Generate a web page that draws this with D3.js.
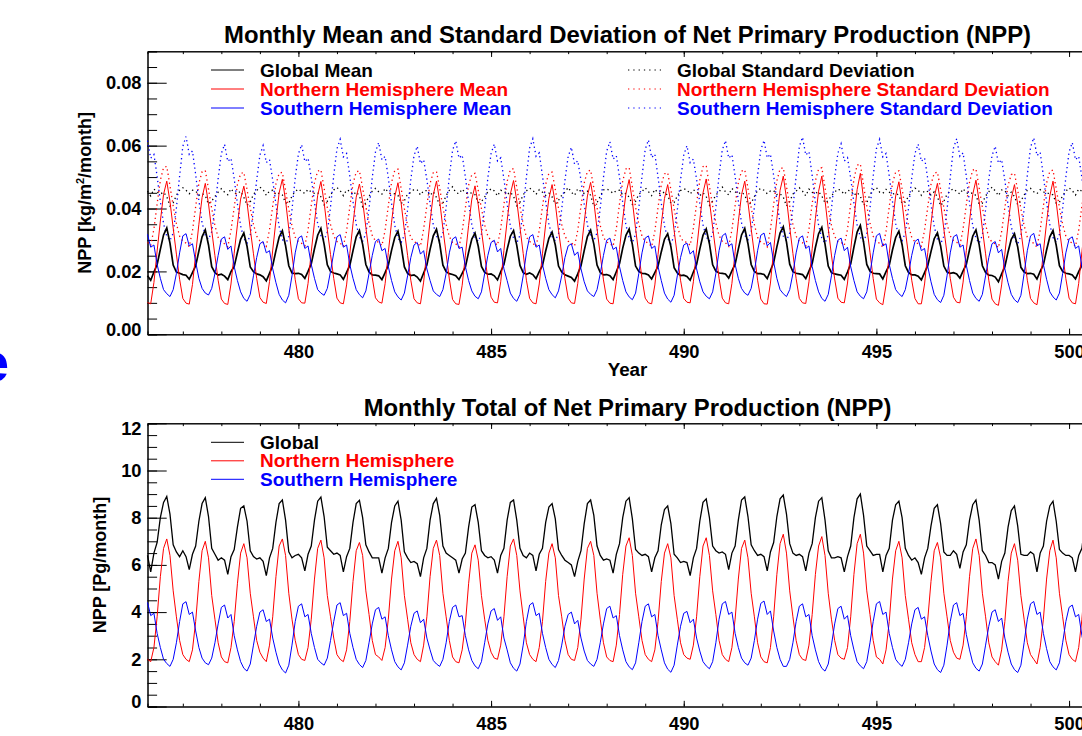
<!DOCTYPE html>
<html>
<head>
<meta charset="utf-8">
<script src="https://cdn.jsdelivr.net/npm/d3@7"></script>
<style>
  html, body { margin: 0; padding: 0; background: #fff; overflow: hidden; }
  svg { display: block; font-family: "Liberation Sans", Arial, Helvetica, sans-serif; font-weight: bold; }
</style>
</head>
<body>
<svg id="chart" width="1082" height="736"></svg>
<script>
// monthly values, one row per year (Jan..Dec), years 476..500
var firstYear = 476;

var globalMean = [
  [0.0186,0.0172,0.0198,0.0222,0.0270,0.0316,0.0338,0.0290,0.0220,0.0198,0.0194,0.0190],
  [0.0188,0.0175,0.0196,0.0218,0.0265,0.0310,0.0332,0.0284,0.0215,0.0196,0.0188,0.0191],
  [0.0185,0.0174,0.0199,0.0216,0.0260,0.0302,0.0322,0.0280,0.0214,0.0199,0.0192,0.0189],
  [0.0183,0.0170,0.0194,0.0219,0.0266,0.0309,0.0329,0.0282,0.0218,0.0195,0.0193,0.0194],
  [0.0190,0.0178,0.0200,0.0224,0.0272,0.0315,0.0337,0.0287,0.0221,0.0200,0.0195,0.0192],
  [0.0189,0.0175,0.0197,0.0219,0.0266,0.0310,0.0330,0.0286,0.0222,0.0198,0.0189,0.0188],
  [0.0186,0.0174,0.0196,0.0220,0.0267,0.0308,0.0328,0.0281,0.0214,0.0194,0.0187,0.0189],
  [0.0182,0.0169,0.0195,0.0220,0.0270,0.0313,0.0334,0.0288,0.0220,0.0199,0.0193,0.0190],
  [0.0186,0.0174,0.0194,0.0214,0.0261,0.0303,0.0322,0.0280,0.0216,0.0197,0.0191,0.0192],
  [0.0186,0.0173,0.0199,0.0222,0.0270,0.0312,0.0330,0.0283,0.0219,0.0196,0.0191,0.0195],
  [0.0190,0.0177,0.0199,0.0219,0.0265,0.0305,0.0325,0.0284,0.0217,0.0198,0.0189,0.0185],
  [0.0181,0.0169,0.0192,0.0218,0.0266,0.0311,0.0331,0.0287,0.0220,0.0197,0.0189,0.0190],
  [0.0186,0.0174,0.0199,0.0225,0.0274,0.0315,0.0335,0.0285,0.0217,0.0200,0.0194,0.0193],
  [0.0189,0.0176,0.0196,0.0217,0.0262,0.0302,0.0320,0.0279,0.0212,0.0195,0.0187,0.0188],
  [0.0184,0.0172,0.0198,0.0222,0.0271,0.0315,0.0335,0.0288,0.0221,0.0201,0.0195,0.0194],
  [0.0192,0.0179,0.0202,0.0223,0.0271,0.0316,0.0337,0.0288,0.0222,0.0200,0.0193,0.0193],
  [0.0190,0.0177,0.0203,0.0228,0.0278,0.0322,0.0342,0.0293,0.0223,0.0199,0.0194,0.0192],
  [0.0190,0.0177,0.0201,0.0225,0.0276,0.0320,0.0340,0.0287,0.0217,0.0196,0.0192,0.0190],
  [0.0188,0.0175,0.0198,0.0224,0.0277,0.0325,0.0346,0.0293,0.0222,0.0201,0.0194,0.0193],
  [0.0192,0.0176,0.0199,0.0220,0.0268,0.0308,0.0328,0.0285,0.0218,0.0197,0.0189,0.0189],
  [0.0185,0.0173,0.0196,0.0219,0.0263,0.0304,0.0323,0.0281,0.0217,0.0198,0.0194,0.0196],
  [0.0192,0.0179,0.0202,0.0222,0.0269,0.0312,0.0332,0.0285,0.0218,0.0197,0.0188,0.0187],
  [0.0182,0.0167,0.0192,0.0215,0.0262,0.0302,0.0320,0.0278,0.0213,0.0198,0.0193,0.0194],
  [0.0191,0.0176,0.0200,0.0221,0.0268,0.0310,0.0330,0.0283,0.0218,0.0200,0.0194,0.0192],
  [0.0189,0.0176,0.0199,0.0220,0.0267,0.0309,0.0330,0.0285,0.0219,0.0199,0.0191,0.0192]
];

var northMean = [
  [0.0101,0.0097,0.0165,0.0265,0.0360,0.0445,0.0487,0.0422,0.0338,0.0255,0.0175,0.0114],
  [0.0099,0.0096,0.0158,0.0255,0.0350,0.0435,0.0480,0.0415,0.0330,0.0250,0.0172,0.0112],
  [0.0098,0.0095,0.0160,0.0258,0.0348,0.0430,0.0471,0.0418,0.0335,0.0256,0.0178,0.0117],
  [0.0102,0.0098,0.0168,0.0268,0.0362,0.0450,0.0493,0.0425,0.0336,0.0252,0.0174,0.0113],
  [0.0100,0.0099,0.0162,0.0262,0.0356,0.0442,0.0486,0.0420,0.0332,0.0254,0.0178,0.0115],
  [0.0100,0.0097,0.0157,0.0256,0.0352,0.0436,0.0478,0.0424,0.0340,0.0260,0.0180,0.0116],
  [0.0103,0.0099,0.0161,0.0260,0.0356,0.0438,0.0482,0.0416,0.0330,0.0251,0.0172,0.0113],
  [0.0100,0.0097,0.0166,0.0266,0.0360,0.0444,0.0487,0.0423,0.0336,0.0256,0.0176,0.0111],
  [0.0097,0.0095,0.0156,0.0252,0.0346,0.0430,0.0472,0.0412,0.0330,0.0252,0.0176,0.0118],
  [0.0102,0.0100,0.0167,0.0267,0.0361,0.0446,0.0489,0.0424,0.0340,0.0257,0.0172,0.0114],
  [0.0100,0.0097,0.0160,0.0256,0.0350,0.0432,0.0476,0.0416,0.0331,0.0255,0.0177,0.0115],
  [0.0100,0.0098,0.0162,0.0262,0.0356,0.0440,0.0483,0.0422,0.0335,0.0252,0.0173,0.0112],
  [0.0099,0.0097,0.0167,0.0270,0.0366,0.0448,0.0492,0.0424,0.0336,0.0256,0.0177,0.0115],
  [0.0100,0.0097,0.0157,0.0254,0.0350,0.0432,0.0476,0.0418,0.0330,0.0251,0.0172,0.0114],
  [0.0102,0.0100,0.0167,0.0268,0.0364,0.0450,0.0494,0.0425,0.0340,0.0261,0.0178,0.0115],
  [0.0100,0.0097,0.0162,0.0262,0.0358,0.0444,0.0487,0.0420,0.0335,0.0255,0.0172,0.0112],
  [0.0097,0.0096,0.0163,0.0268,0.0368,0.0458,0.0503,0.0432,0.0341,0.0257,0.0177,0.0114],
  [0.0100,0.0098,0.0167,0.0272,0.0368,0.0455,0.0503,0.0426,0.0336,0.0252,0.0176,0.0115],
  [0.0102,0.0100,0.0163,0.0268,0.0368,0.0460,0.0512,0.0432,0.0341,0.0261,0.0177,0.0112],
  [0.0100,0.0094,0.0157,0.0256,0.0355,0.0440,0.0485,0.0418,0.0330,0.0252,0.0172,0.0114],
  [0.0097,0.0097,0.0160,0.0260,0.0352,0.0436,0.0480,0.0418,0.0335,0.0256,0.0178,0.0118],
  [0.0102,0.0100,0.0166,0.0266,0.0360,0.0445,0.0490,0.0423,0.0336,0.0256,0.0172,0.0112],
  [0.0097,0.0092,0.0157,0.0255,0.0350,0.0432,0.0476,0.0414,0.0330,0.0251,0.0172,0.0114],
  [0.0100,0.0094,0.0162,0.0262,0.0356,0.0440,0.0487,0.0420,0.0335,0.0256,0.0177,0.0115],
  [0.0100,0.0097,0.0162,0.0262,0.0356,0.0440,0.0483,0.0420,0.0335,0.0256,0.0172,0.0114]
];

var southMean = [
  [0.0318,0.0277,0.0284,0.0222,0.0178,0.0142,0.0129,0.0120,0.0142,0.0193,0.0259,0.0313],
  [0.0320,0.0281,0.0288,0.0230,0.0178,0.0146,0.0131,0.0125,0.0146,0.0193,0.0251,0.0303],
  [0.0310,0.0270,0.0281,0.0215,0.0171,0.0135,0.0114,0.0105,0.0127,0.0186,0.0244,0.0288],
  [0.0295,0.0259,0.0266,0.0208,0.0164,0.0127,0.0109,0.0100,0.0124,0.0186,0.0259,0.0306],
  [0.0313,0.0273,0.0281,0.0222,0.0178,0.0142,0.0131,0.0124,0.0146,0.0200,0.0259,0.0310],
  [0.0317,0.0277,0.0284,0.0222,0.0178,0.0142,0.0126,0.0116,0.0138,0.0193,0.0251,0.0295],
  [0.0303,0.0266,0.0273,0.0215,0.0171,0.0135,0.0119,0.0109,0.0131,0.0186,0.0244,0.0284],
  [0.0292,0.0255,0.0266,0.0208,0.0171,0.0138,0.0127,0.0120,0.0142,0.0193,0.0259,0.0303],
  [0.0310,0.0273,0.0277,0.0215,0.0171,0.0138,0.0121,0.0113,0.0135,0.0193,0.0251,0.0292],
  [0.0299,0.0262,0.0273,0.0208,0.0171,0.0131,0.0114,0.0105,0.0127,0.0186,0.0259,0.0310],
  [0.0317,0.0277,0.0284,0.0222,0.0178,0.0142,0.0126,0.0116,0.0138,0.0186,0.0244,0.0281],
  [0.0288,0.0251,0.0262,0.0208,0.0167,0.0138,0.0127,0.0120,0.0142,0.0193,0.0251,0.0299],
  [0.0306,0.0270,0.0277,0.0215,0.0171,0.0135,0.0119,0.0110,0.0131,0.0193,0.0259,0.0306],
  [0.0313,0.0273,0.0281,0.0215,0.0171,0.0131,0.0112,0.0102,0.0124,0.0186,0.0244,0.0284],
  [0.0290,0.0255,0.0266,0.0208,0.0167,0.0135,0.0121,0.0113,0.0135,0.0193,0.0266,0.0313],
  [0.0321,0.0281,0.0288,0.0222,0.0178,0.0146,0.0131,0.0124,0.0146,0.0200,0.0266,0.0315],
  [0.0322,0.0281,0.0292,0.0230,0.0178,0.0142,0.0129,0.0120,0.0142,0.0193,0.0259,0.0306],
  [0.0313,0.0273,0.0281,0.0215,0.0171,0.0135,0.0114,0.0105,0.0127,0.0186,0.0251,0.0299],
  [0.0306,0.0266,0.0277,0.0215,0.0171,0.0135,0.0121,0.0113,0.0135,0.0193,0.0259,0.0313],
  [0.0321,0.0281,0.0288,0.0222,0.0178,0.0142,0.0129,0.0120,0.0142,0.0193,0.0251,0.0295],
  [0.0303,0.0266,0.0273,0.0215,0.0167,0.0127,0.0110,0.0101,0.0124,0.0186,0.0259,0.0310],
  [0.0317,0.0277,0.0284,0.0219,0.0171,0.0131,0.0114,0.0105,0.0127,0.0186,0.0244,0.0288],
  [0.0295,0.0259,0.0270,0.0208,0.0164,0.0127,0.0110,0.0101,0.0124,0.0193,0.0266,0.0313],
  [0.0321,0.0281,0.0288,0.0222,0.0175,0.0135,0.0119,0.0109,0.0131,0.0193,0.0259,0.0303],
  [0.0310,0.0273,0.0281,0.0215,0.0171,0.0135,0.0121,0.0113,0.0135,0.0193,0.0259,0.0306]
];

var globalStd = [
  [0.0455,0.0440,0.0462,0.0452,0.0446,0.0452,0.0438,0.0408,0.0418,0.0442,0.0458,0.0466],
  [0.0458,0.0447,0.0458,0.0456,0.0442,0.0448,0.0441,0.0414,0.0424,0.0438,0.0452,0.0463],
  [0.0452,0.0444,0.0463,0.0450,0.0447,0.0455,0.0436,0.0410,0.0421,0.0445,0.0457,0.0468],
  [0.0460,0.0442,0.0456,0.0458,0.0444,0.0449,0.0443,0.0418,0.0416,0.0440,0.0454,0.0462],
  [0.0454,0.0448,0.0461,0.0453,0.0448,0.0451,0.0437,0.0412,0.0423,0.0443,0.0459,0.0467],
  [0.0457,0.0441,0.0459,0.0455,0.0443,0.0453,0.0440,0.0406,0.0419,0.0439,0.0455,0.0464],
  [0.0453,0.0446,0.0464,0.0451,0.0446,0.0447,0.0442,0.0416,0.0425,0.0446,0.0451,0.0461],
  [0.0459,0.0443,0.0457,0.0457,0.0441,0.0454,0.0435,0.0411,0.0417,0.0441,0.0458,0.0469],
  [0.0451,0.0447,0.0462,0.0449,0.0447,0.0450,0.0444,0.0419,0.0422,0.0437,0.0453,0.0463],
  [0.0456,0.0440,0.0458,0.0456,0.0445,0.0452,0.0439,0.0409,0.0420,0.0444,0.0456,0.0465],
  [0.0458,0.0445,0.0460,0.0452,0.0442,0.0449,0.0437,0.0414,0.0426,0.0442,0.0452,0.0467],
  [0.0452,0.0442,0.0463,0.0454,0.0448,0.0455,0.0442,0.0407,0.0418,0.0439,0.0459,0.0462],
  [0.0457,0.0448,0.0457,0.0458,0.0443,0.0448,0.0436,0.0413,0.0423,0.0445,0.0454,0.0466],
  [0.0454,0.0441,0.0461,0.0450,0.0446,0.0453,0.0441,0.0417,0.0419,0.0440,0.0457,0.0463],
  [0.0459,0.0446,0.0459,0.0455,0.0441,0.0450,0.0438,0.0410,0.0424,0.0443,0.0453,0.0468],
  [0.0453,0.0443,0.0464,0.0453,0.0447,0.0452,0.0443,0.0415,0.0417,0.0438,0.0458,0.0464],
  [0.0458,0.0447,0.0456,0.0457,0.0444,0.0447,0.0436,0.0408,0.0422,0.0446,0.0455,0.0466],
  [0.0455,0.0440,0.0462,0.0451,0.0448,0.0454,0.0440,0.0418,0.0425,0.0441,0.0452,0.0462],
  [0.0457,0.0445,0.0458,0.0456,0.0442,0.0451,0.0439,0.0411,0.0418,0.0444,0.0459,0.0467],
  [0.0452,0.0448,0.0461,0.0452,0.0446,0.0449,0.0442,0.0416,0.0421,0.0439,0.0454,0.0465],
  [0.0459,0.0442,0.0457,0.0454,0.0443,0.0453,0.0437,0.0409,0.0423,0.0445,0.0457,0.0463],
  [0.0454,0.0446,0.0463,0.0450,0.0447,0.0450,0.0441,0.0414,0.0417,0.0440,0.0453,0.0468],
  [0.0456,0.0441,0.0459,0.0457,0.0441,0.0452,0.0438,0.0412,0.0424,0.0443,0.0458,0.0464],
  [0.0453,0.0447,0.0460,0.0453,0.0448,0.0448,0.0443,0.0417,0.0420,0.0441,0.0455,0.0466],
  [0.0457,0.0443,0.0462,0.0455,0.0444,0.0451,0.0439,0.0410,0.0422,0.0442,0.0456,0.0465]
];

var northStd = [
  [0.0292,0.0282,0.0335,0.0415,0.0490,0.0530,0.0534,0.0472,0.0408,0.0352,0.0312,0.0296],
  [0.0290,0.0279,0.0328,0.0406,0.0480,0.0517,0.0521,0.0462,0.0400,0.0346,0.0308,0.0293],
  [0.0288,0.0278,0.0330,0.0404,0.0476,0.0511,0.0515,0.0460,0.0402,0.0350,0.0312,0.0297],
  [0.0291,0.0280,0.0333,0.0408,0.0478,0.0512,0.0515,0.0458,0.0398,0.0345,0.0309,0.0294],
  [0.0289,0.0281,0.0332,0.0410,0.0482,0.0519,0.0523,0.0465,0.0403,0.0349,0.0313,0.0295],
  [0.0290,0.0279,0.0329,0.0405,0.0479,0.0516,0.0520,0.0466,0.0406,0.0353,0.0314,0.0297],
  [0.0293,0.0282,0.0331,0.0409,0.0483,0.0521,0.0525,0.0463,0.0400,0.0345,0.0307,0.0294],
  [0.0290,0.0280,0.0334,0.0410,0.0480,0.0514,0.0518,0.0464,0.0404,0.0350,0.0311,0.0292],
  [0.0288,0.0277,0.0327,0.0402,0.0474,0.0508,0.0512,0.0458,0.0400,0.0348,0.0312,0.0298],
  [0.0293,0.0283,0.0336,0.0413,0.0486,0.0523,0.0527,0.0467,0.0406,0.0350,0.0309,0.0295],
  [0.0290,0.0279,0.0330,0.0405,0.0477,0.0512,0.0516,0.0461,0.0401,0.0349,0.0312,0.0296],
  [0.0291,0.0281,0.0331,0.0408,0.0481,0.0518,0.0522,0.0465,0.0403,0.0346,0.0308,0.0293],
  [0.0289,0.0280,0.0336,0.0415,0.0488,0.0526,0.0530,0.0468,0.0404,0.0351,0.0312,0.0295],
  [0.0290,0.0279,0.0328,0.0404,0.0476,0.0510,0.0514,0.0460,0.0399,0.0346,0.0308,0.0294],
  [0.0293,0.0283,0.0337,0.0416,0.0490,0.0533,0.0537,0.0470,0.0408,0.0354,0.0314,0.0296],
  [0.0291,0.0280,0.0332,0.0409,0.0482,0.0519,0.0523,0.0464,0.0403,0.0349,0.0308,0.0293],
  [0.0288,0.0278,0.0333,0.0413,0.0488,0.0526,0.0530,0.0470,0.0408,0.0351,0.0312,0.0295],
  [0.0291,0.0281,0.0336,0.0415,0.0488,0.0526,0.0530,0.0466,0.0403,0.0347,0.0311,0.0295],
  [0.0293,0.0283,0.0334,0.0416,0.0494,0.0538,0.0542,0.0474,0.0408,0.0354,0.0312,0.0293],
  [0.0290,0.0277,0.0328,0.0406,0.0480,0.0516,0.0520,0.0462,0.0400,0.0346,0.0308,0.0294],
  [0.0288,0.0280,0.0331,0.0406,0.0477,0.0512,0.0516,0.0461,0.0403,0.0351,0.0313,0.0298],
  [0.0293,0.0283,0.0335,0.0412,0.0484,0.0522,0.0526,0.0466,0.0404,0.0349,0.0308,0.0293],
  [0.0288,0.0275,0.0327,0.0402,0.0474,0.0508,0.0512,0.0458,0.0399,0.0346,0.0309,0.0294],
  [0.0290,0.0277,0.0331,0.0408,0.0481,0.0518,0.0522,0.0463,0.0403,0.0350,0.0312,0.0296],
  [0.0290,0.0280,0.0331,0.0408,0.0480,0.0516,0.0520,0.0463,0.0403,0.0349,0.0309,0.0295]
];

var southStd = [
  [0.0616,0.0560,0.0572,0.0502,0.0422,0.0352,0.0312,0.0298,0.0322,0.0402,0.0503,0.0598],
  [0.0629,0.0572,0.0583,0.0508,0.0425,0.0355,0.0315,0.0302,0.0326,0.0400,0.0495,0.0575],
  [0.0604,0.0550,0.0560,0.0495,0.0415,0.0345,0.0305,0.0290,0.0315,0.0395,0.0490,0.0570],
  [0.0600,0.0546,0.0556,0.0490,0.0412,0.0342,0.0302,0.0286,0.0312,0.0396,0.0497,0.0574],
  [0.0603,0.0549,0.0560,0.0498,0.0420,0.0352,0.0314,0.0300,0.0325,0.0405,0.0505,0.0590],
  [0.0620,0.0564,0.0575,0.0503,0.0422,0.0350,0.0310,0.0296,0.0320,0.0400,0.0498,0.0580],
  [0.0610,0.0555,0.0566,0.0497,0.0417,0.0346,0.0306,0.0292,0.0316,0.0396,0.0492,0.0568],
  [0.0598,0.0543,0.0555,0.0492,0.0416,0.0349,0.0312,0.0298,0.0323,0.0402,0.0502,0.0585],
  [0.0615,0.0560,0.0570,0.0500,0.0420,0.0349,0.0309,0.0295,0.0319,0.0400,0.0497,0.0575],
  [0.0605,0.0551,0.0561,0.0494,0.0415,0.0345,0.0305,0.0290,0.0315,0.0397,0.0500,0.0592],
  [0.0622,0.0566,0.0577,0.0504,0.0423,0.0351,0.0311,0.0297,0.0320,0.0398,0.0490,0.0565],
  [0.0595,0.0541,0.0552,0.0490,0.0414,0.0348,0.0312,0.0298,0.0323,0.0401,0.0499,0.0582],
  [0.0612,0.0557,0.0568,0.0499,0.0419,0.0347,0.0307,0.0292,0.0318,0.0400,0.0502,0.0588],
  [0.0618,0.0562,0.0573,0.0500,0.0418,0.0345,0.0304,0.0288,0.0313,0.0395,0.0490,0.0570],
  [0.0600,0.0546,0.0557,0.0493,0.0416,0.0348,0.0310,0.0296,0.0321,0.0402,0.0506,0.0586],
  [0.0616,0.0560,0.0571,0.0503,0.0424,0.0354,0.0315,0.0301,0.0326,0.0405,0.0505,0.0587],
  [0.0617,0.0561,0.0573,0.0505,0.0424,0.0352,0.0312,0.0298,0.0322,0.0402,0.0502,0.0597],
  [0.0627,0.0570,0.0581,0.0504,0.0420,0.0347,0.0305,0.0290,0.0315,0.0398,0.0498,0.0576],
  [0.0606,0.0551,0.0562,0.0496,0.0418,0.0348,0.0309,0.0295,0.0320,0.0401,0.0503,0.0590],
  [0.0620,0.0564,0.0575,0.0504,0.0423,0.0352,0.0312,0.0298,0.0322,0.0400,0.0496,0.0575],
  [0.0605,0.0550,0.0561,0.0494,0.0414,0.0343,0.0302,0.0287,0.0312,0.0396,0.0500,0.0592],
  [0.0622,0.0566,0.0577,0.0502,0.0419,0.0346,0.0305,0.0290,0.0315,0.0396,0.0492,0.0568],
  [0.0598,0.0544,0.0555,0.0490,0.0412,0.0342,0.0302,0.0287,0.0313,0.0398,0.0505,0.0595],
  [0.0625,0.0568,0.0579,0.0504,0.0421,0.0349,0.0308,0.0293,0.0318,0.0400,0.0500,0.0580],
  [0.0610,0.0555,0.0566,0.0498,0.0418,0.0348,0.0309,0.0295,0.0320,0.0400,0.0500,0.0585]
];

var globalTotal = [
  [6.40,5.70,6.50,6.95,8.00,8.65,8.90,8.15,6.85,6.55,6.35,6.60],
  [6.35,5.80,6.45,6.80,7.85,8.60,8.85,8.05,6.70,6.45,6.20,6.30],
  [6.20,5.60,6.35,6.65,7.60,8.40,8.50,7.85,6.60,6.35,6.25,6.30],
  [6.15,5.55,6.30,6.70,7.80,8.60,8.75,7.90,6.55,6.30,6.40,6.45],
  [6.30,5.75,6.45,6.80,7.90,8.70,8.87,8.05,6.75,6.60,6.45,6.50],
  [6.40,5.70,6.35,6.70,7.80,8.60,8.74,8.00,6.85,6.55,6.30,6.30],
  [6.30,5.65,6.30,6.70,7.80,8.50,8.70,7.90,6.55,6.30,6.10,6.15],
  [6.05,5.50,6.30,6.70,7.90,8.60,8.82,8.10,6.80,6.50,6.40,6.30],
  [6.20,5.65,6.25,6.50,7.60,8.45,8.55,7.80,6.60,6.40,6.30,6.35],
  [6.20,5.65,6.40,6.70,7.90,8.65,8.75,7.90,6.70,6.40,6.30,6.50],
  [6.40,5.75,6.45,6.70,7.80,8.45,8.60,7.95,6.65,6.40,6.20,6.10],
  [6.00,5.50,6.15,6.60,7.75,8.60,8.75,8.10,6.80,6.40,6.20,6.25],
  [6.20,5.65,6.45,6.90,8.00,8.70,8.85,7.95,6.65,6.50,6.40,6.45],
  [6.35,5.70,6.30,6.60,7.70,8.35,8.50,7.75,6.45,6.30,6.10,6.15],
  [6.10,5.55,6.30,6.70,7.85,8.65,8.80,8.00,6.80,6.60,6.50,6.55],
  [6.45,5.80,6.50,6.80,7.90,8.75,8.88,8.05,6.85,6.60,6.40,6.45],
  [6.35,5.75,6.55,6.95,8.05,8.80,8.96,8.15,6.90,6.50,6.40,6.45],
  [6.35,5.75,6.50,6.90,8.00,8.70,8.85,7.90,6.60,6.30,6.30,6.35],
  [6.30,5.70,6.35,6.80,8.00,8.80,9.00,8.10,6.80,6.60,6.40,6.45],
  [6.45,5.70,6.40,6.70,7.90,8.55,8.70,8.00,6.70,6.40,6.20,6.30],
  [6.10,5.60,6.30,6.70,7.65,8.40,8.55,7.75,6.55,6.40,6.40,6.60],
  [6.45,5.85,6.55,6.85,7.90,8.55,8.75,7.90,6.60,6.40,6.10,6.10],
  [6.00,5.40,6.15,6.50,7.60,8.30,8.50,7.65,6.45,6.40,6.40,6.55],
  [6.45,5.70,6.50,6.80,7.85,8.50,8.70,7.85,6.65,6.50,6.40,6.40],
  [6.30,5.70,6.40,6.70,7.80,8.50,8.72,7.90,6.70,6.50,6.30,6.45]
];

var northTotal = [
  [2.00,1.90,2.50,3.80,5.50,6.70,7.10,6.40,4.90,3.80,2.80,2.20],
  [2.00,1.90,2.40,3.60,5.30,6.60,7.00,6.30,4.70,3.70,2.70,2.10],
  [1.90,1.85,2.50,3.60,5.20,6.50,6.90,6.30,4.80,3.80,2.80,2.30],
  [2.05,1.90,2.60,3.80,5.50,6.80,7.10,6.40,4.80,3.70,2.80,2.20],
  [2.00,1.95,2.50,3.70,5.40,6.70,7.05,6.30,4.70,3.80,2.90,2.20],
  [2.00,1.90,2.40,3.60,5.30,6.60,6.95,6.40,4.90,3.90,2.80,2.20],
  [2.10,1.95,2.50,3.70,5.40,6.60,7.00,6.30,4.70,3.70,2.70,2.20],
  [2.00,1.90,2.60,3.80,5.50,6.70,7.05,6.40,4.80,3.80,2.80,2.10],
  [1.90,1.85,2.40,3.50,5.20,6.50,6.85,6.20,4.70,3.70,2.80,2.30],
  [2.05,2.00,2.60,3.80,5.50,6.80,7.10,6.40,4.90,3.80,2.70,2.20],
  [2.00,1.90,2.50,3.60,5.30,6.50,6.90,6.30,4.70,3.80,2.80,2.20],
  [2.00,1.95,2.50,3.70,5.40,6.70,7.00,6.40,4.80,3.70,2.70,2.10],
  [1.95,1.90,2.60,3.90,5.60,6.80,7.15,6.40,4.80,3.80,2.80,2.20],
  [2.00,1.90,2.40,3.60,5.30,6.50,6.90,6.30,4.70,3.70,2.70,2.20],
  [2.05,2.00,2.60,3.80,5.50,6.80,7.15,6.40,4.90,3.90,2.80,2.20],
  [2.00,1.90,2.50,3.70,5.40,6.70,7.05,6.30,4.80,3.80,2.70,2.10],
  [1.90,1.85,2.50,3.80,5.60,6.90,7.30,6.50,4.90,3.80,2.80,2.20],
  [2.00,1.95,2.60,3.90,5.60,6.80,7.20,6.40,4.80,3.70,2.80,2.20],
  [2.05,2.00,2.50,3.80,5.60,6.90,7.30,6.50,4.90,3.90,2.80,2.10],
  [2.00,1.80,2.40,3.60,5.40,6.60,7.00,6.30,4.70,3.70,2.70,2.20],
  [1.90,1.90,2.50,3.70,5.30,6.60,6.95,6.30,4.80,3.80,2.80,2.30],
  [2.05,2.00,2.60,3.80,5.50,6.70,7.10,6.40,4.80,3.80,2.70,2.10],
  [1.90,1.75,2.40,3.60,5.30,6.50,6.90,6.20,4.70,3.70,2.70,2.20],
  [2.00,1.80,2.50,3.70,5.40,6.60,7.05,6.30,4.80,3.80,2.80,2.20],
  [2.00,1.90,2.50,3.70,5.40,6.60,7.00,6.30,4.80,3.80,2.70,2.20]
];

var southTotal = [
  [4.41,3.85,3.95,3.10,2.50,2.00,1.82,1.70,2.00,2.70,3.60,4.35],
  [4.44,3.90,4.00,3.20,2.50,2.05,1.85,1.77,2.05,2.70,3.50,4.20],
  [4.30,3.75,3.90,3.00,2.40,1.90,1.62,1.50,1.80,2.60,3.40,4.00],
  [4.10,3.60,3.70,2.90,2.30,1.80,1.55,1.42,1.75,2.60,3.60,4.25],
  [4.35,3.80,3.90,3.10,2.50,2.00,1.85,1.75,2.05,2.80,3.60,4.30],
  [4.40,3.85,3.95,3.10,2.50,2.00,1.78,1.65,1.95,2.70,3.50,4.10],
  [4.20,3.70,3.80,3.00,2.40,1.90,1.68,1.55,1.85,2.60,3.40,3.95],
  [4.05,3.55,3.70,2.90,2.40,1.95,1.80,1.70,2.00,2.70,3.60,4.20],
  [4.30,3.80,3.85,3.00,2.40,1.95,1.72,1.60,1.90,2.70,3.50,4.05],
  [4.15,3.65,3.80,2.90,2.40,1.85,1.62,1.50,1.80,2.60,3.60,4.30],
  [4.40,3.85,3.95,3.10,2.50,2.00,1.78,1.65,1.95,2.60,3.40,3.90],
  [4.00,3.50,3.65,2.90,2.35,1.95,1.80,1.70,2.00,2.70,3.50,4.15],
  [4.25,3.75,3.85,3.00,2.40,1.90,1.68,1.56,1.85,2.70,3.60,4.25],
  [4.35,3.80,3.90,3.00,2.40,1.85,1.58,1.45,1.75,2.60,3.40,3.95],
  [4.03,3.55,3.70,2.90,2.35,1.90,1.72,1.60,1.90,2.70,3.70,4.35],
  [4.45,3.90,4.00,3.10,2.50,2.05,1.85,1.75,2.05,2.80,3.70,4.37],
  [4.47,3.90,4.05,3.20,2.50,2.00,1.70,1.70,2.00,2.70,3.60,4.25],
  [4.35,3.80,3.90,3.00,2.40,1.90,1.62,1.50,1.80,2.60,3.50,4.15],
  [4.25,3.70,3.85,3.00,2.40,1.90,1.72,1.60,1.90,2.70,3.60,4.35],
  [4.45,3.90,4.00,3.10,2.50,2.00,1.82,1.70,2.00,2.70,3.50,4.10],
  [4.20,3.70,3.80,3.00,2.35,1.80,1.56,1.44,1.75,2.60,3.60,4.30],
  [4.40,3.85,3.95,3.05,2.40,1.85,1.62,1.50,1.80,2.60,3.40,4.00],
  [4.10,3.60,3.75,2.90,2.30,1.80,1.56,1.44,1.75,2.70,3.70,4.35],
  [4.45,3.90,4.00,3.10,2.45,1.90,1.68,1.55,1.85,2.70,3.60,4.20],
  [4.30,3.80,3.90,3.00,2.40,1.90,1.72,1.60,1.90,2.70,3.60,4.25]
];

var topTicks = [0, 0.02, 0.04, 0.06, 0.08];
var bottomTicks = [0, 2, 4, 6, 8, 10, 12];
var yearTicks = [480, 485, 490, 495, 500];

var meanNames = ["Global Mean", "Northern Hemisphere Mean", "Southern Hemisphere Mean"];
var stdNames = ["Global Standard Deviation", "Northern Hemisphere Standard Deviation", "Southern Hemisphere Standard Deviation"];
var totalNames = ["Global", "Northern Hemisphere", "Southern Hemisphere"];
var colors = ["black", "red", "blue"];

// turn rows of 12 months into a list of {t, v}
function makeSeries(rows) {
  var out = [];
  rows.forEach(function(row, y) {
    row.forEach(function(v, m) {
      out.push({t: firstYear + y + (m + 1) / 12, v: v});
    });
  });
  return out;
}

var svg = d3.select("#chart");
var left = 147.5, right = 1107.6;

var x = d3.scaleLinear()
  .domain([firstYear + 1 / 12, firstYear + globalMean.length])
  .range([left, right]);

function drawPanel(p) {
  var y = d3.scaleLinear().domain([0, p.yMax]).range([p.bottom, p.top]);
  var g = svg.append("g");
  var h = p.bottom - p.top;
  var xLen = 0.02 * h, yLen = 0.02 * (right - left);

  var minorY = d3.range(0, Math.round(p.yMax / p.yMinor) + 1).map(function(i) { return i * p.yMinor; });
  var minorX = d3.range(477, 502);

  // minor ticks
  g.append("g").attr("transform", "translate(" + left + ",0)")
    .call(d3.axisLeft(y).tickValues(minorY).tickSize(-yLen / 2).tickFormat(""));
  g.append("g").attr("transform", "translate(" + right + ",0)")
    .call(d3.axisRight(y).tickValues(minorY).tickSize(-yLen / 2).tickFormat(""));
  g.append("g").attr("transform", "translate(0," + p.bottom + ")")
    .call(d3.axisBottom(x).tickValues(minorX).tickSize(-xLen / 2).tickFormat(""));
  g.append("g").attr("transform", "translate(0," + p.top + ")")
    .call(d3.axisTop(x).tickValues(minorX).tickSize(-xLen / 2).tickFormat(""));

  // major ticks and labels
  var yAxis = g.append("g").attr("transform", "translate(" + left + ",0)")
    .call(d3.axisLeft(y).tickValues(p.yTicks).tickSize(-yLen).tickSizeOuter(0)
      .tickPadding(6).tickFormat(p.fmt));
  g.append("g").attr("transform", "translate(" + right + ",0)")
    .call(d3.axisRight(y).tickValues(p.yTicks).tickSize(-yLen).tickSizeOuter(0).tickFormat(""));
  g.append("g").attr("transform", "translate(0," + p.bottom + ")")
    .call(d3.axisBottom(x).tickValues(yearTicks).tickSize(-xLen).tickSizeOuter(0)
      .tickPadding(p.xPad).tickFormat(d3.format("d")));
  g.append("g").attr("transform", "translate(0," + p.top + ")")
    .call(d3.axisTop(x).tickValues(yearTicks).tickSize(-xLen).tickSizeOuter(0).tickFormat(""));

  // IDL keeps the end labels inside the box
  yAxis.selectAll(".tick text").attr("transform", function(d) {
    if (d === 0) return "translate(0,-5)";
    if (d === p.yMax) return "translate(0,5)";
    return null;
  });

  g.selectAll(".tick line").attr("stroke", "#000");
  g.selectAll(".domain").attr("stroke", "#000");
  g.selectAll("text").attr("font-family", null).attr("font-size", 18.3).attr("fill", "#000");

  // series
  p.series.forEach(function(s) {
    g.append("path")
      .datum(makeSeries(s.rows))
      .attr("fill", "none")
      .attr("stroke", s.color)
      .attr("stroke-width", s.width)
      .attr("stroke-dasharray", s.dash || null)
      .attr("d", d3.line().x(function(d) { return x(d.t); }).y(function(d) { return y(d.v); }));
  });

  // titles
  svg.append("text").attr("x", (left + right) / 2).attr("y", p.titleY)
    .attr("text-anchor", "middle").attr("font-size", 23.9).text(p.title);
  svg.append("text").attr("x", (left + right) / 2).attr("y", p.bottom + 42)
    .attr("text-anchor", "middle").attr("font-size", 18.8).text("Year");

  // legends
  p.legends.forEach(function(lg) {
    lg.names.forEach(function(name, i) {
      var ly = lg.y + i * lg.step;
      g.append("line").attr("x1", lg.x).attr("x2", lg.x + 33).attr("y1", ly).attr("y2", ly)
        .attr("stroke", colors[i]).attr("stroke-width", 1)
        .attr("stroke-dasharray", lg.dash || null);
      g.append("text").attr("x", lg.x + 49).attr("y", ly + 6.5)
        .attr("font-size", 19).attr("fill", colors[i]).text(name);
    });
  });
}

var dots = "1.3,3.2";

drawPanel({
  top: 51.3, bottom: 334.3, yMax: 0.09, yMinor: 0.005, yTicks: topTicks,
  fmt: d3.format(".2f"), xPad: 11, titleY: 43.3,
  title: "Monthly Mean and Standard Deviation of Net Primary Production (NPP)",
  series: [
    {rows: globalStd, color: "black", width: 1.3, dash: dots},
    {rows: northStd, color: "red", width: 1.3, dash: dots},
    {rows: southStd, color: "blue", width: 1.3, dash: dots},
    {rows: globalMean, color: "black", width: 1.7},
    {rows: northMean, color: "red", width: 1},
    {rows: southMean, color: "blue", width: 1}
  ],
  legends: [
    {names: meanNames, x: 211, y: 70, step: 19},
    {names: stdNames, x: 628, y: 70, step: 19, dash: "1.3,4"}
  ]
});

drawPanel({
  top: 423.3, bottom: 706.5, yMax: 12, yMinor: 0.5, yTicks: bottomTicks,
  fmt: d3.format("d"), xPad: 10.5, titleY: 416,
  title: "Monthly Total of Net Primary Production (NPP)",
  series: [
    {rows: globalTotal, color: "black", width: 1.3},
    {rows: northTotal, color: "red", width: 1},
    {rows: southTotal, color: "blue", width: 1}
  ],
  legends: [
    {names: totalNames, x: 211, y: 442.3, step: 18.5}
  ]
});

// y axis titles
var t1 = svg.append("text").attr("transform", "translate(91,192.8) rotate(-90)")
  .attr("text-anchor", "middle").attr("font-size", 18);
t1.append("tspan").text("NPP [kg/m");
t1.append("tspan").attr("font-size", 11).attr("dy", -7).text("2");
t1.append("tspan").attr("dy", 7).text("/month]");

svg.append("text").attr("transform", "translate(106,565) rotate(-90)")
  .attr("text-anchor", "middle").attr("font-size", 18).text("NPP [Pg/month]");

// piece of a letter cut off at the left edge
svg.append("text").attr("x", 9).attr("y", 381).attr("text-anchor", "end")
  .attr("font-size", 54).attr("fill", "blue").text("e");
</script>
</body>
</html>
